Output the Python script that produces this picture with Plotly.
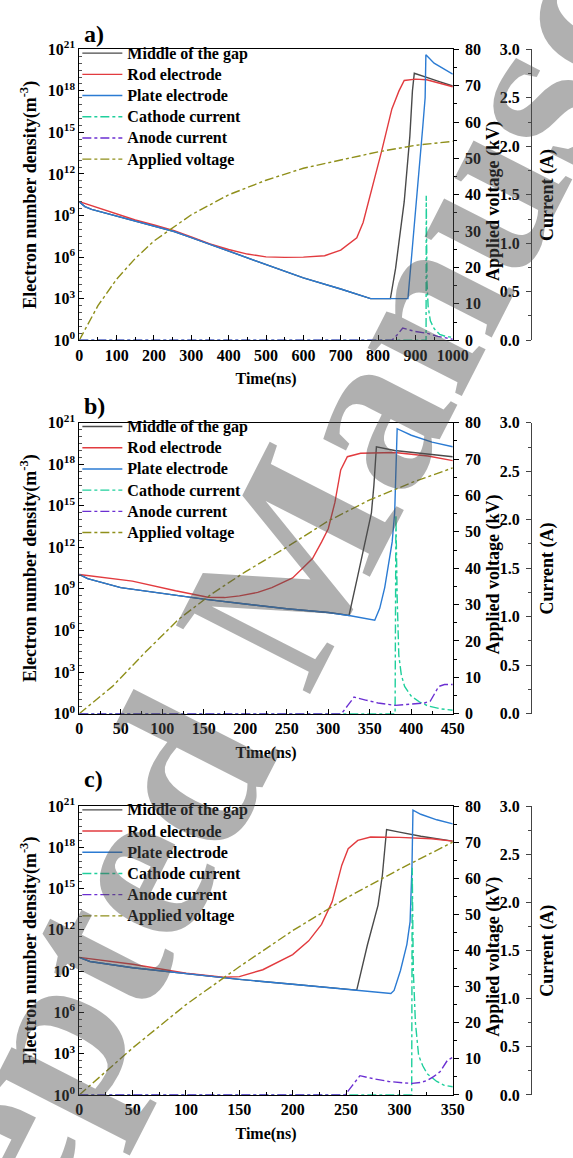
import plotly.graph_objects as go

# ---------------- data: panel a (0-1000 ns) ----------------
# electron densities are stored as log10(n) [m^-3]
t_mid_a = [0, 15, 33, 100, 150, 200, 254, 300, 400, 500, 600, 700, 780, 833, 847, 856, 870, 885, 892, 897, 930, 960, 1000]
n_mid_a = [10.0, 9.65, 9.45, 8.95, 8.6, 8.25, 7.85, 7.4, 6.45, 5.45, 4.5, 3.7, 3.0, 3.0, 5.2, 7.1, 10.0, 14.7, 18.0, 19.27, 18.95, 18.7, 18.35]
t_rod_a = [0, 50, 100, 150, 203, 254, 300, 350, 400, 450, 500, 550, 600, 657, 700, 743, 760, 780, 809, 837, 856, 870, 900, 930, 960, 1000]
n_rod_a = [10.0, 9.55, 9.1, 8.68, 8.3, 7.9, 7.45, 6.95, 6.55, 6.22, 6.02, 5.98, 6.0, 6.1, 6.5, 7.4, 8.5, 10.5, 13.6, 16.7, 18.0, 18.75, 18.85, 18.8, 18.6, 18.3]
t_plate_a = [0, 15, 33, 100, 150, 200, 254, 300, 400, 500, 600, 700, 780, 880, 895, 910, 920, 926, 928, 950, 975, 1000]
n_plate_a = [10.0, 9.65, 9.45, 8.95, 8.6, 8.25, 7.85, 7.4, 6.45, 5.45, 4.5, 3.7, 3.0, 3.0, 7.5, 12.5, 15.5, 17.5, 20.6, 20.0, 19.6, 19.2]
t_cath_a = [0, 928.5, 929, 931, 934, 940, 950, 965, 980, 1000]
i_cath_a = [0, 0, 1.49, 0.6, 0.35, 0.2, 0.12, 0.06, 0.04, 0.03]
t_anode_a = [0, 837, 850, 866, 880, 900, 932, 960, 1000]
i_anode_a = [0, 0, 0.05, 0.125, 0.11, 0.09, 0.07, 0.04, 0.01]
t_volt_a = [0, 50, 100, 150, 200, 250, 300, 400, 500, 600, 700, 800, 900, 1000]
v_volt_a = [0, 9.5, 16.8, 22.5, 27.3, 30.8, 34.5, 40, 44, 47.3, 49.6, 51.8, 53.6, 54.7]

# ---------------- data: panel b (0-450 ns) ----------------
t_mid_b = [0, 10, 50, 100, 150, 200, 250, 300, 325, 335, 345, 352, 355, 358, 380, 420, 450]
n_mid_b = [10.05, 9.75, 9.1, 8.67, 8.27, 7.92, 7.57, 7.3, 7.09, 9.8, 12.5, 14.5, 16.5, 19.27, 19.0, 18.75, 18.55]
t_rod_b = [0, 30, 64, 116, 155, 175, 193, 215, 232, 257, 270, 281, 292, 300, 308, 315, 323, 339, 380, 420, 450]
n_rod_b = [10.05, 9.8, 9.57, 8.87, 8.4, 8.38, 8.5, 8.75, 9.1, 9.8, 10.6, 11.2, 12.4, 13.35, 15.25, 17.6, 18.55, 18.8, 18.85, 18.6, 18.27]
t_plate_b = [0, 10, 50, 100, 150, 200, 250, 300, 325, 356, 362, 368, 374, 377, 380, 381, 383, 400, 425, 450]
n_plate_b = [10.05, 9.75, 9.1, 8.67, 8.27, 7.92, 7.57, 7.3, 7.09, 6.74, 7.6, 9.1, 11.2, 12.4, 14.5, 17.0, 20.57, 20.1, 19.6, 19.27]
t_cath_b = [0, 380.5, 381.5, 383, 385, 388, 392, 400, 410, 420, 435, 450]
i_cath_b = [0, 0, 2.05, 1.2, 0.6, 0.4, 0.28, 0.18, 0.12, 0.08, 0.05, 0.035]
t_anode_b = [0, 316, 324, 331, 345, 360, 381, 400, 416, 423, 428, 433, 440, 450]
i_anode_b = [0, 0, 0.09, 0.17, 0.14, 0.11, 0.085, 0.095, 0.11, 0.13, 0.2, 0.28, 0.3, 0.3]
t_volt_b = [0, 40, 80, 120, 160, 200, 250, 300, 350, 400, 450]
v_volt_b = [0, 7.5, 17, 26, 33, 39, 45.8, 53, 58.8, 63.5, 67.6]

# ---------------- data: panel c (0-350 ns) ----------------
t_mid_c = [0, 10, 50, 100, 150, 200, 250, 260, 270, 280, 284, 286, 288, 300, 320, 350]
n_mid_c = [10.0, 9.7, 9.25, 8.8, 8.4, 8.05, 7.7, 7.62, 10.9, 13.8, 15.95, 17.9, 19.29, 19.1, 18.8, 18.45]
t_rod_c = [0, 50, 100, 135, 150, 172, 200, 215, 227, 237, 246, 252, 261, 273, 300, 330, 350]
n_rod_c = [10.0, 9.5, 8.85, 8.55, 8.6, 9.1, 10.2, 11.2, 12.4, 14.05, 16.7, 17.9, 18.5, 18.75, 18.72, 18.62, 18.45]
t_plate_c = [0, 10, 50, 100, 150, 200, 250, 292, 295, 301, 307, 310, 311.8, 312.7, 320, 335, 350]
n_plate_c = [10.0, 9.7, 9.25, 8.8, 8.4, 8.05, 7.7, 7.38, 7.6, 9.05, 10.95, 12.6, 16.7, 20.7, 20.4, 20.0, 19.7]
t_cath_c = [0, 311.5, 312, 313, 315, 318, 322, 326, 335, 342, 350]
i_cath_c = [0, 0, 2.36, 1.3, 0.75, 0.41, 0.3, 0.22, 0.14, 0.1, 0.085]
t_anode_c = [0, 249, 256, 263, 275, 290, 305, 312, 320, 326, 332, 338, 345, 350]
i_anode_c = [0, 0, 0.1, 0.2, 0.17, 0.14, 0.125, 0.12, 0.13, 0.15, 0.19, 0.24, 0.36, 0.39]
t_volt_c = [0, 50, 100, 150, 200, 250, 300, 350]
v_volt_c = [0, 13, 25, 35.5, 45.5, 54.5, 62.5, 70]

# axis ticks / labels
density_exponents = [0, 3, 6, 9, 12, 15, 18, 21]
series_names = ["Middle of the gap", "Rod electrode", "Plate electrode",
                "Cathode current", "Anode current", "Applied voltage"]
panel_labels = ["a)", "b)", "c)"]

# ---------------- styling ----------------
W, H = 573, 1158
FONT = "Liberation Serif"
COLORS = ["#4a4a4a", "#e23b3f", "#2b7bd3", "#1fcf9c", "#6b2fd2", "#8f8f1a"]
DASHES = ["solid", "solid", "solid", "dashdot", "dashdot", "dashdot"]

X_LEFT, X_RIGHT = 78, 465          # plot area, px
CUR_AXIS_X = 546                    # current axis position, px
PANEL_Y = [(39, 335), (419, 715), (809, 1103)]   # (top, bottom) px
LABEL_Y = [23, 402, 782]

# minor ticks of the log axis every half decade
log_minor_vals = [10.0 ** (k / 2) for k in range(0, 43) if k % 6 != 0]

panels = [
    dict(xmax=1000, dtick=100, minor=50,
         dens=[(t_mid_a, n_mid_a), (t_rod_a, n_rod_a), (t_plate_a, n_plate_a)],
         cur=[(t_cath_a, i_cath_a), (t_anode_a, i_anode_a)],
         volt=(t_volt_a, v_volt_a)),
    dict(xmax=450, dtick=50, minor=25,
         dens=[(t_mid_b, n_mid_b), (t_rod_b, n_rod_b), (t_plate_b, n_plate_b)],
         cur=[(t_cath_b, i_cath_b), (t_anode_b, i_anode_b)],
         volt=(t_volt_b, v_volt_b)),
    dict(xmax=350, dtick=50, minor=25,
         dens=[(t_mid_c, n_mid_c), (t_rod_c, n_rod_c), (t_plate_c, n_plate_c)],
         cur=[(t_cath_c, i_cath_c), (t_anode_c, i_anode_c)],
         volt=(t_volt_c, v_volt_c)),
]


def px_x(px):
    return px / W


def px_y(py):
    return 1 - py / H


def ax_ref(prefix, n):
    return prefix if n == 1 else f"{prefix}{n}"


def ax_key(prefix, n):
    return f"{prefix}axis" if n == 1 else f"{prefix}axis{n}"


tick_font = dict(family=FONT, size=16, color="black", weight="bold")
title_font = dict(family=FONT, size=18, color="black", weight="bold")
fig = go.Figure()
layout = {}
annotations = []

for i, p in enumerate(panels):
    xn = i + 1
    base = 4 * i + 1
    xr = ax_ref("x", xn)
    y_den, y_volt, y_cur = ax_ref("y", base), ax_ref("y", base + 1), ax_ref("y", base + 2)
    legend_id = ax_ref("legend", xn)
    top, bottom = PANEL_Y[i]
    mid = (top + bottom) / 2
    dom_y = [px_y(bottom), px_y(top)]
    dom_x = [px_x(X_LEFT), px_x(X_RIGHT)]

    # electron densities
    for k, (tt, nn) in enumerate(p["dens"]):
        fig.add_trace(go.Scatter(
            x=tt, y=[10.0 ** v for v in nn], mode="lines",
            name=f"<span style='font-size:16px'>{series_names[k]}</span>",
            line=dict(color=COLORS[k], width=1.4, dash=DASHES[k]),
            xaxis=xr, yaxis=y_den, legend=legend_id))
    # currents
    for k, (tt, ii) in enumerate(p["cur"]):
        fig.add_trace(go.Scatter(
            x=tt, y=ii, mode="lines",
            name=f"<span style='font-size:16px'>{series_names[3 + k]}</span>",
            line=dict(color=COLORS[3 + k], width=1.4, dash=DASHES[3 + k]),
            xaxis=xr, yaxis=y_cur, legend=legend_id))
    # applied voltage
    tv, vv = p["volt"]
    fig.add_trace(go.Scatter(
        x=tv, y=vv, mode="lines",
        name=f"<span style='font-size:16px'>{series_names[5]}</span>",
        line=dict(color=COLORS[5], width=1.4, dash=DASHES[5]),
        xaxis=xr, yaxis=y_volt, legend=legend_id))

    layout[ax_key("x", xn)] = dict(
        domain=dom_x, anchor=y_den, range=[0, p["xmax"]],
        tickmode="linear", tick0=0, dtick=p["dtick"],
        ticks="inside", ticklen=5, tickwidth=1.2, tickcolor="black",
        minor=dict(ticks="inside", ticklen=3, dtick=p["minor"], tickcolor="black"),
        showline=True, linecolor="black", linewidth=1.2, mirror=True,
        showgrid=False, zeroline=False, tickfont=tick_font,
        title=dict(text="Time(ns)", font=dict(family=FONT, size=16, color="black", weight="bold"),
                   standoff=10))
    layout[ax_key("y", base)] = dict(
        domain=dom_y, anchor=xr, type="log", range=[0, 21],
        tickmode="array", tickvals=[10.0 ** e for e in density_exponents],
        ticktext=[f"10<sup>{e}</sup>" for e in density_exponents],
        ticks="inside", ticklen=5, tickwidth=1.2, tickcolor="black",
        minor=dict(tickmode="array", tickvals=log_minor_vals,
                   ticks="inside", ticklen=3, tickwidth=1, tickcolor="#555"),
        showline=True, linecolor="black", linewidth=1.2,
        showgrid=False, zeroline=False, tickfont=tick_font,
        title=dict(text="Electron number density(m<sup>-3</sup>)", font=title_font, standoff=6))
    layout[ax_key("y", base + 1)] = dict(
        overlaying=y_den, anchor=xr, side="right", range=[0, 80],
        tickmode="linear", tick0=0, dtick=10, ticklabelstandoff=3,
        ticks="outside", ticklen=5, tickwidth=1.2, tickcolor="black",
        minor=dict(ticks="outside", ticklen=3, dtick=5, tickcolor="black"),
        showline=True, linecolor="black", linewidth=1.2,
        showgrid=False, zeroline=False, tickfont=tick_font)
    layout[ax_key("y", base + 2)] = dict(
        overlaying=y_den, anchor="free", position=px_x(CUR_AXIS_X), side="left",
        range=[0, 3], tickmode="linear", tick0=0, dtick=0.5, tickformat=".1f",
        ticklabelstandoff=3,
        ticks="outside", ticklen=5, tickwidth=1.2, tickcolor="#444",
        minor=dict(ticks="outside", ticklen=3, dtick=0.25, tickcolor="#444"),
        showline=True, linecolor="#444", linewidth=1.2,
        showgrid=False, zeroline=False, tickfont=tick_font)
    # second copy of the current axis: ticks on the right side of the line
    layout[ax_key("y", base + 3)] = dict(
        overlaying=y_den, anchor="free", position=px_x(CUR_AXIS_X), side="right",
        range=[0, 3], tickmode="linear", tick0=0, dtick=0.5,
        ticks="outside", ticklen=5, tickwidth=1.2, tickcolor="#444",
        minor=dict(ticks="outside", ticklen=3, dtick=0.25, tickcolor="#444"),
        showticklabels=False, showline=True, linecolor="#444", linewidth=1.2,
        showgrid=False, zeroline=False)
    layout[legend_id] = dict(
        x=px_x(76), y=px_y(top - 12), xanchor="left", yanchor="top",
        bgcolor="rgba(0,0,0,0)", borderwidth=0, itemwidth=40,
        font=dict(family=FONT, size=14, color="black", weight="bold"),
        tracegroupgap=0)
    annotations.append(dict(
        text=panel_labels[i], x=px_x(81), y=px_y(LABEL_Y[i]), xref="paper", yref="paper",
        xanchor="left", yanchor="middle", showarrow=False,
        font=dict(family=FONT, size=24, color="black", weight="bold")))
    annotations.append(dict(
        text="Applied voltage (kV)", x=px_x(507), y=px_y(mid + 6), xref="paper", yref="paper",
        xanchor="center", yanchor="middle", showarrow=False, textangle=-90,
        font=title_font))
    annotations.append(dict(
        text="Current (A)", x=px_x(563), y=px_y(mid), xref="paper", yref="paper",
        xanchor="center", yanchor="middle", showarrow=False, textangle=-90,
        font=title_font))

# diagonal watermark across the page
annotations.append(dict(
    text="Accepted Manuscript", x=0.5, y=0.5, xref="paper", yref="paper",
    xanchor="center", yanchor="middle", showarrow=False, textangle=-63,
    font=dict(family=FONT, size=230, color="rgba(80,80,80,0.45)", weight="bold")))

fig.update_layout(
    width=W, height=H, margin=dict(l=0, r=0, t=0, b=0),
    paper_bgcolor="white", plot_bgcolor="white",
    font=dict(family=FONT, size=16, color="black", weight="bold"),
    annotations=annotations, **layout)

fig.write_html("out.html")
